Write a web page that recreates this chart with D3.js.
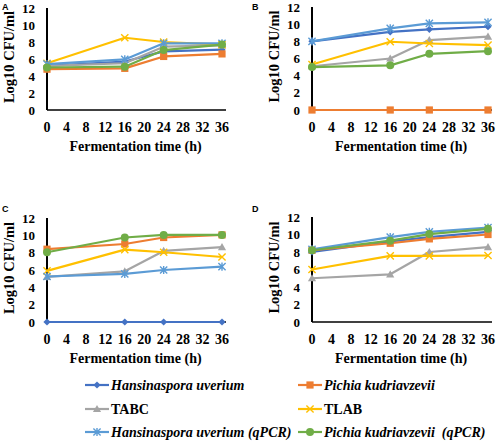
<!DOCTYPE html>
<html><head><meta charset="utf-8">
<script src="https://cdn.jsdelivr.net/npm/d3@7"></script>
<style>body{margin:0;background:#fff}svg{display:block}
.sf{font-family:"Liberation Serif","Times New Roman",Times,"DejaVu Serif",serif;font-weight:bold}
.pl{font-family:"Liberation Sans",Arial,sans-serif;font-weight:bold}
</style>
</head><body>
<svg id="c" width="500" height="442"></svg>
<script>
const times = [0, 16, 24, 36];
const xTicks = [0, 4, 8, 12, 16, 20, 24, 28, 32, 36];
const yTicks = [0, 2, 4, 6, 8, 10, 12];
const seriesNames = ["Hansinaspora uverium", "Pichia kudriavzevii", "TABC", "TLAB", "Hansinaspora uverium (qPCR)", "Pichia kudriavzevii  (qPCR)"];
const seriesItalic = [true, true, false, false, true, true];
const colors = ["#4472C4", "#ED7D31", "#A5A5A5", "#FFC000", "#5B9BD5", "#70AD47"];
const markers = ["diamond", "square", "triangle", "x", "asterisk", "circle"];

// values per panel: [H, P, TABC, TLAB, H qPCR, P qPCR]
const panelA = [
  [5.2, 5.7, 6.9, 7.1],
  [4.8, 4.9, 6.3, 6.6],
  [5.2, 5.5, 7.45, 7.6],
  [5.5, 8.5, 8.0, 7.7],
  [5.4, 5.95, 7.85, 7.85],
  [5.0, 5.1, 7.05, 7.7]
];
const panelB = [
  [8.0, 9.1, 9.4, 9.7],
  [0, 0, 0, 0],
  [5.1, 6.0, 8.15, 8.55],
  [5.3, 7.95, 7.75, 7.55],
  [8.0, 9.5, 10.1, 10.2],
  [5.0, 5.2, 6.55, 6.85]
];
const panelC = [
  [0, 0, 0, 0],
  [8.4, 9.0, 9.75, 10.05],
  [5.2, 5.85, 8.2, 8.65],
  [5.9, 8.35, 8.05, 7.5],
  [5.25, 5.55, 6.0, 6.4],
  [8.05, 9.75, 10.05, 10.05]
];
const panelD = [
  [8.0, 9.2, 9.7, 10.3],
  [8.2, 9.0, 9.5, 10.0],
  [5.0, 5.45, 8.0, 8.55],
  [6.0, 7.55, 7.55, 7.6],
  [8.3, 9.7, 10.3, 10.8],
  [8.2, 9.3, 10.05, 10.65]
];
const panelLabels = ["A", "B", "C", "D"];

const panels = [
  {label: panelLabels[0], data: panelA, l: 47, r: 222, t: 8, b: 110, lx: 2, ly: 10},
  {label: panelLabels[1], data: panelB, l: 312, r: 488, t: 7, b: 110, lx: 252, ly: 10},
  {label: panelLabels[2], data: panelC, l: 47, r: 222, t: 218, b: 322, lx: 2, ly: 212},
  {label: panelLabels[3], data: panelD, l: 312, r: 488, t: 217, b: 322, lx: 252, ly: 212}
];

const svg = d3.select("#c");

function drawMarker(g, type, color, x, y) {
  const s = 3.6;
  if (type === "diamond") {
    g.append("path").attr("d", `M${x},${y-s}L${x+s},${y}L${x},${y+s}L${x-s},${y}Z`).attr("fill", color);
  } else if (type === "square") {
    g.append("rect").attr("x", x-s).attr("y", y-s).attr("width", 2*s).attr("height", 2*s).attr("fill", color);
  } else if (type === "triangle") {
    g.append("path").attr("d", `M${x},${y-s-0.5}L${x+s+0.5},${y+s-0.5}L${x-s-0.5},${y+s-0.5}Z`).attr("fill", color);
  } else if (type === "x") {
    g.append("path").attr("d", `M${x-s},${y-s}L${x+s},${y+s}M${x-s},${y+s}L${x+s},${y-s}`).attr("stroke", color).attr("stroke-width", 1.4);
  } else if (type === "asterisk") {
    g.append("path").attr("d", `M${x-s},${y-s}L${x+s},${y+s}M${x-s},${y+s}L${x+s},${y-s}M${x},${y-s-0.5}L${x},${y+s+0.5}`).attr("stroke", color).attr("stroke-width", 1.4);
  } else if (type === "circle") {
    g.append("circle").attr("cx", x).attr("cy", y).attr("r", s+0.4).attr("fill", color);
  }
}

panels.forEach(p => {
  const x = d3.scaleLinear().domain([0, 36]).range([p.l, p.r]);
  const y = d3.scaleLinear().domain([0, 12]).range([p.b, p.t]);
  const g = svg.append("g");

  g.append("line").attr("x1", p.l).attr("x2", p.r + 4).attr("y1", p.b).attr("y2", p.b)
    .attr("stroke", "#000").attr("stroke-width", 1.5);
  g.append("line").attr("x1", p.l).attr("x2", p.l).attr("y1", p.t).attr("y2", p.b)
    .attr("stroke", "#000").attr("stroke-width", 2);

  g.selectAll(".yt").data(yTicks).enter().append("text").attr("class", "sf")
    .attr("x", p.l - 12).attr("y", d => y(d)).attr("dy", "0.35em")
    .attr("text-anchor", "end").style("font-size", "13px").text(d => d);

  g.selectAll(".xt").data(xTicks).enter().append("text").attr("class", "sf")
    .attr("x", d => x(d)).attr("y", p.b + 17).attr("dy", "0.35em")
    .attr("text-anchor", "middle").style("font-size", "14px").text(d => d);

  g.append("text").attr("class", "sf").attr("x", (p.l + p.r) / 2 + 1).attr("y", p.b + 36).attr("dy", "0.35em")
    .attr("text-anchor", "middle").style("font-size", "14px").text("Fermentation time (h)");

  const ty = (p.t + p.b) / 2 - 2;
  const tx = p.l - 38;
  g.append("text").attr("class", "sf").attr("transform", `translate(${tx},${ty}) rotate(-90)`)
    .attr("text-anchor", "middle").attr("dy", "0.35em").style("font-size", "14.5px").text("Log10 CFU/ml");

  g.append("text").attr("class", "pl").attr("x", p.lx).attr("y", p.ly)
    .style("font-size", "9px").text(p.label);

  const line = d3.line().x((d, i) => x(times[i])).y(d => y(d));
  p.data.forEach((vals, si) => {
    const sg = g.append("g");
    sg.append("path").attr("d", line(vals)).attr("fill", "none")
      .attr("stroke", colors[si]).attr("stroke-width", 2.2).attr("stroke-linejoin", "round");
    vals.forEach((v, i) => drawMarker(sg, markers[si], colors[si], x(times[i]), y(v)));
  });
});

const legRows = [385, 409, 432];
const legCols = [{lx: 85, tx: 111}, {lx: 298, tx: 324}];
seriesNames.forEach((name, i) => {
  const col = legCols[i % 2];
  const ry = legRows[Math.floor(i / 2)];
  const g = svg.append("g");
  g.append("line").attr("x1", col.lx).attr("x2", col.lx + 24).attr("y1", ry).attr("y2", ry)
    .attr("stroke", colors[i]).attr("stroke-width", 2.2);
  drawMarker(g, markers[i], colors[i], col.lx + 12, ry);
  g.append("text").attr("class", "sf").attr("x", col.tx).attr("y", ry).attr("dy", "0.35em")
    .style("font-style", seriesItalic[i] ? "italic" : "normal")
    .style("font-size", "14px").style("white-space", "pre").text(name);
});
</script>
</body></html>
